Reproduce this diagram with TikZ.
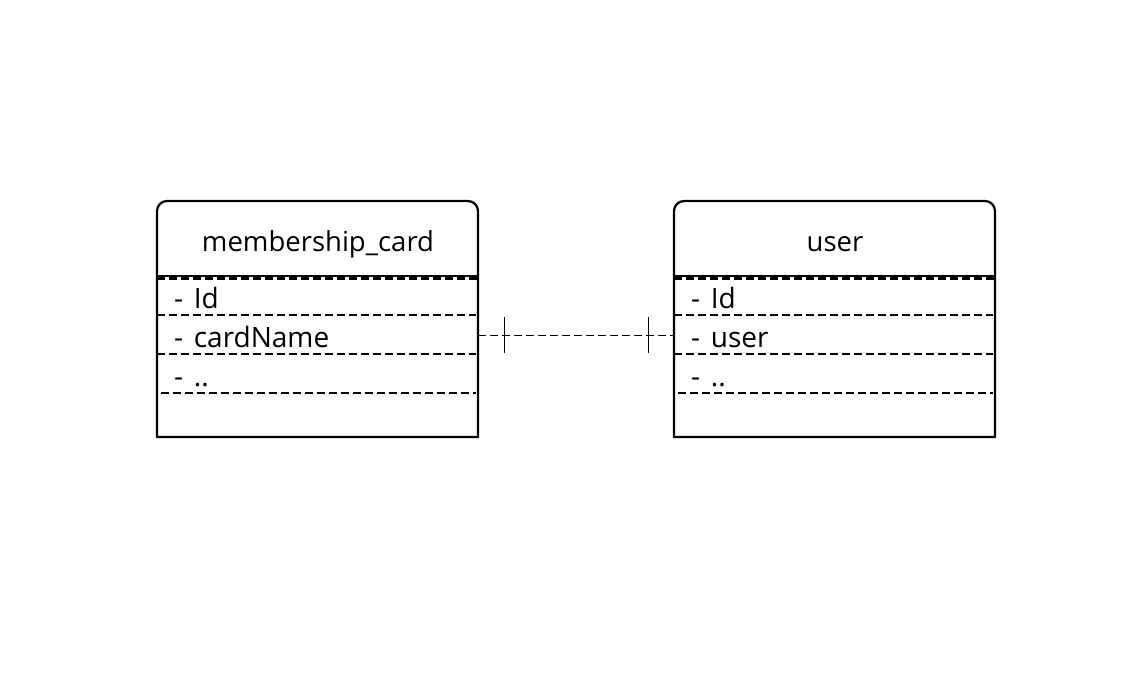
\documentclass[tikz,border=0pt]{standalone}
\usepackage{fontspec}
\setmainfont{Open Sans}

\tikzset{
  entity/.style={line width=2.2pt},
  rowsep/.style={line width=2.2pt, dash pattern=on 8pt off 4pt},
  title/.style={anchor=base, inner sep=0pt, font=\fontsize{27.5}{32}\selectfont},
  field/.style={anchor=base west, inner sep=0pt, font=\fontsize{28}{32}\selectfont},
  link/.style={line width=1pt, dash pattern=on 8pt off 4pt},
}

\begin{document}
\begin{tikzpicture}[x=1pt, y=-1pt]
  \useasboundingbox (0,0) rectangle (1144,675);
  % Entities
  \foreach \name/\x/\label/\attr in {card/157/membership\_card/cardName, user/674/user/user} {
    % outline, round top corners only
    \draw[entity] (\x,437) -- (\x,211) arc[start angle=180, end angle=270, radius=10]
      -- (\x+311,201) arc[start angle=270, end angle=360, radius=10] -- (\x+321,437) -- cycle;
    \draw[entity] (\x,276) -- (\x+321,276);
    \draw[rowsep] (\x,278.5) -- (\x+321,278.5);
    \foreach \y in {315,354} \draw[rowsep] (\x,\y) -- (\x+319,\y);
    \draw[rowsep] (\x+4,393) -- (\x+319,393);
    % texts
    \node[title] (\name-title) at (\x+161,251) {\label};
    \node[field] (\name-id) at (\x+17,308) {-\hspace{0.38em}Id};
    \node[field] (\name-attr) at (\x+17,347) {-\hspace{0.38em}\attr};
    \node[field] (\name-more) at (\x+17,386) {-\hspace{0.38em}..};
    \coordinate (\name-left) at (\x,335);
    \coordinate (\name-right) at (\x+321,335);
  }
  % One-to-one link
  \draw[link] (card-right) -- (user-left);
  \draw[line width=1pt] (card-right) ++(26,-18) -- ++(0,36);
  \draw[line width=1pt] (user-left) ++(-26,-18) -- ++(0,36);
\end{tikzpicture}
\end{document}
